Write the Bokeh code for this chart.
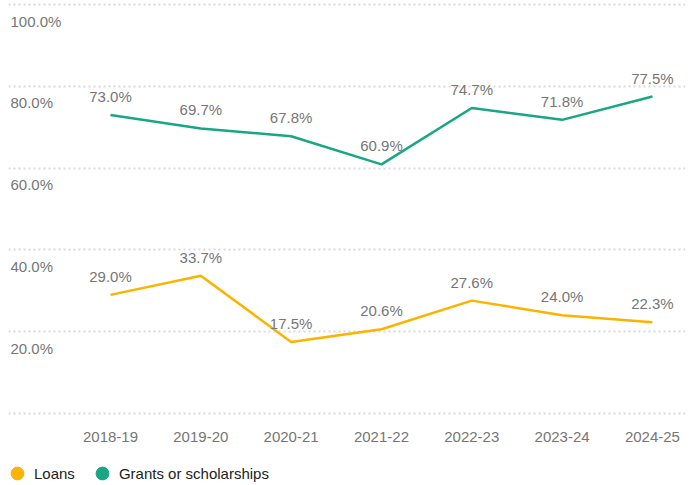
from bokeh.plotting import figure
from bokeh.layouts import column
from bokeh.models import Range1d, FixedTicker, Legend, LegendItem
from bokeh.core.properties import value
from bokeh.embed import file_html
from bokeh.resources import INLINE

years = ["2018-19", "2019-20", "2020-21", "2021-22", "2022-23", "2023-24", "2024-25"]
grants = [73.0, 69.7, 67.8, 60.9, 74.7, 71.8, 77.5]
loans = [29.0, 33.7, 17.5, 20.6, 27.6, 24.0, 22.3]
y_ticks = [0, 20, 40, 60, 80, 100]
y_tick_labels = ["20.0%", "40.0%", "60.0%", "80.0%", "100.0%"]
label_ticks = [20, 40, 60, 80, 100]
series_names = ["Loans", "Grants or scholarships"]

GREEN = "#19a683"
ORANGE = "#fbb300"
GRAY = "#767676"
FONT = "Liberation Sans"
FS = "15px"

xs = list(range(len(years)))

p = figure(width=685, height=450, output_backend="svg", toolbar_location=None,
           x_range=Range1d(-1.129, 6.366), y_range=Range1d(-0.49, 100.98),
           y_axis_location=None, min_border_left=8, min_border_right=0, min_border_top=0,
           min_border_bottom=35)
p.outline_line_color = None
p.background_fill_color = "white"

p.xgrid.visible = False
p.ygrid.ticker = FixedTicker(ticks=y_ticks)
p.ygrid.grid_line_color = "#d9d9d9"
p.ygrid.grid_line_width = 2
p.ygrid.grid_line_dash = "2 3"

ax = p.xaxis[0]
ax.ticker = FixedTicker(ticks=xs)
ax.major_label_overrides = {i: y for i, y in enumerate(years)}
ax.axis_line_color = None
ax.major_tick_line_color = None
ax.minor_tick_line_color = None
ax.major_tick_in = 0
ax.major_tick_out = 0
ax.major_label_text_font = FONT
ax.major_label_text_font_size = FS
ax.major_label_text_color = GRAY
ax.major_label_standoff = 16

# y tick labels drawn inside the plot
p.text(x=[-1.129] * len(label_ticks), y=label_ticks, text=y_tick_labels,
       x_offset=2, y_offset=8, text_baseline="top", text_align="left",
       text_font=value(FONT), text_font_size=FS, text_color=GRAY)

p.line(xs, grants, line_color=GREEN, line_width=2.5)
p.line(xs, loans, line_color=ORANGE, line_width=2.5)

p.text(x=xs, y=grants, text=[f"{v:.1f}%" for v in grants], y_offset=-10,
       text_align="center", text_baseline="bottom",
       text_font=value(FONT), text_font_size=FS, text_color=GRAY)
p.text(x=xs, y=loans, text=[f"{v:.1f}%" for v in loans], y_offset=-10,
       text_align="center", text_baseline="bottom",
       text_font=value(FONT), text_font_size=FS, text_color=GRAY)

# legend figure below
p2 = figure(width=685, height=35, output_backend="svg", toolbar_location=None,
            x_range=Range1d(-1.129, 6.366), y_range=Range1d(-0.49, 100.98),
            x_axis_location=None, y_axis_location=None,
            min_border_left=0, min_border_right=0, min_border_top=0, min_border_bottom=0)
p2.outline_line_color = None
p2.xgrid.visible = False
p2.ygrid.visible = False
r_l = p2.scatter(xs, loans, size=0, fill_color=ORANGE, line_color=ORANGE)
r_g = p2.scatter(xs, grants, size=0, fill_color=GREEN, line_color=GREEN)

legend = Legend(items=[LegendItem(label=series_names[0], renderers=[r_l]),
                       LegendItem(label=series_names[1], renderers=[r_g])],
                orientation="horizontal", location=(-7, -4), margin=0, padding=0,
                spacing=11, glyph_width=32, glyph_height=32, label_standoff=1,
                label_text_font=FONT, label_text_font_size=FS,
                label_text_color="#222222", border_line_color=None,
                background_fill_alpha=0)
p2.add_layout(legend, "center")

layout = column(p, p2, spacing=0)
open("out.html", "w").write(file_html(layout, INLINE))
